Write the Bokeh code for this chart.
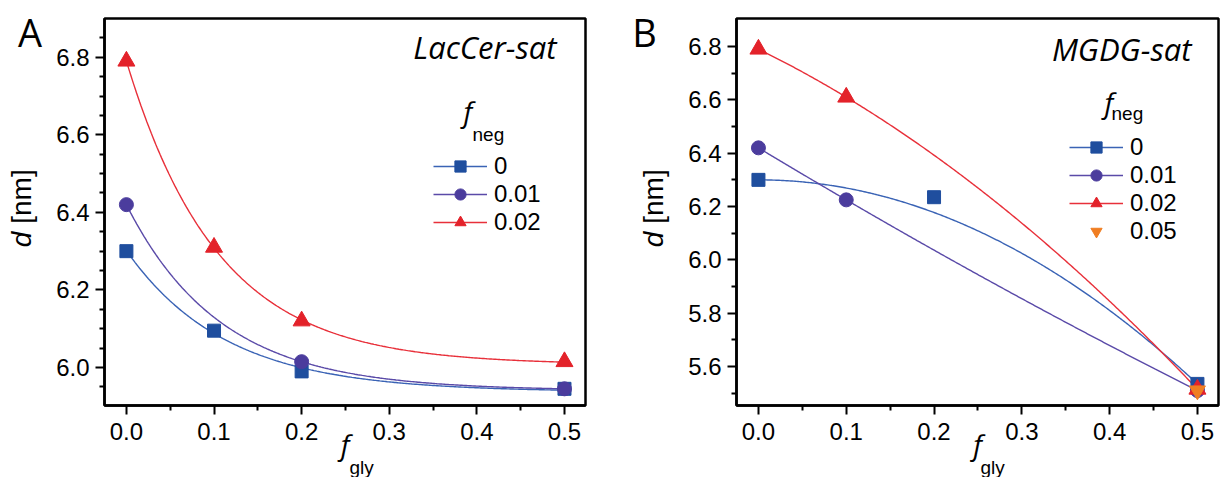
import numpy as np
from bokeh.plotting import figure
from bokeh.models import (Label, Legend, LegendItem, FixedTicker, Range1d, Title,
                          PrintfTickFormatter)
from bokeh.layouts import row
from bokeh.embed import file_html
from bokeh.resources import INLINE

# ---------------- data ----------------
# Panel A: LacCer-sat
a_x_neg0 = [0.0, 0.1, 0.2, 0.5]
a_y_neg0 = [6.30, 6.095, 5.99, 5.945]
a_x_neg001 = [0.0, 0.2, 0.5]
a_y_neg001 = [6.42, 6.015, 5.945]
a_x_neg002 = [0.0, 0.1, 0.2, 0.5]
a_y_neg002 = [6.79, 6.31, 6.12, 6.015]

# Panel B: MGDG-sat
b_x_neg0 = [0.0, 0.2, 0.5]
b_y_neg0 = [6.30, 6.235, 5.535]
b_x_neg001 = [0.0, 0.1, 0.5]
b_y_neg001 = [6.42, 6.225, 5.51]
b_x_neg002 = [0.0, 0.1, 0.5]
b_y_neg002 = [6.79, 6.61, 5.515]
b_x_neg005 = [0.5]
b_y_neg005 = [5.51]

legend_labels_a = ["0", "0.01", "0.02"]
legend_labels_b = ["0", "0.01", "0.02", "0.05"]
x_ticks = [0.0, 0.1, 0.2, 0.3, 0.4, 0.5]
x_minor = [0.05, 0.15, 0.25, 0.35, 0.45]
a_y_ticks = [6.0, 6.2, 6.4, 6.6, 6.8]
a_y_minor = [5.95, 6.05, 6.1, 6.15, 6.25, 6.3, 6.35, 6.45, 6.5, 6.55, 6.65, 6.7, 6.75, 6.85]
b_y_ticks = [5.6, 5.8, 6.0, 6.2, 6.4, 6.6, 6.8]
b_y_minor = [5.5, 5.7, 5.9, 6.1, 6.3, 6.5, 6.7]

# ---------------- style ----------------
BLUE_M, BLUE_L = "#1f4e9e", "#3a63b5"
PURP_M, PURP_L = "#4b3c9d", "#5a4aa8"
RED_M, RED_L = "#e3222a", "#e8303a"
ORANGE = "#f07e22"
TICK_FONT = "Liberation Sans"
ITAL_FONT = "Open Sans"

FH = 387
TOP, BOTTOM = 18, 72
H = TOP + FH + BOTTOM


# ---------------- fits derived from the data ----------------
def exp_decay_fit(x, y):
    x = np.asarray(x, float); y = np.asarray(y, float)
    best = None
    for t in np.linspace(0.02, 0.6, 3000):
        M = np.column_stack([np.ones_like(x), np.exp(-x / t)])
        coef = np.linalg.lstsq(M, y, rcond=None)[0]
        r = float(np.sum((M @ coef - y) ** 2))
        if best is None or r < best[0]:
            best = (r, t, coef)
    _, t, coef = best
    xs = np.linspace(x.min(), x.max(), 300)
    return xs, coef[0] + coef[1] * np.exp(-xs / t)


def quad_fit(x, y):
    c = np.polyfit(x, y, 2)
    xs = np.linspace(min(x), max(x), 300)
    return xs, np.polyval(c, xs)


def vertex_parabola(x, y):
    a = y[0]
    c = (y[-1] - y[0]) / (x[-1] - x[0]) ** 2
    xs = np.linspace(min(x), max(x), 300)
    return xs, a + c * (xs - x[0]) ** 2


def make_fig(fw, xr, yr, yt, ymin, left, right, gly_offset):
    p = figure(frame_width=fw, frame_height=FH, x_range=Range1d(*xr), y_range=Range1d(*yr),
               output_backend="svg", toolbar_location=None,
               min_border_left=left, min_border_right=right,
               min_border_top=TOP, min_border_bottom=BOTTOM)
    p.grid.visible = False
    p.background_fill_color = "white"
    p.border_fill_color = "white"
    p.outline_line_color = "black"
    p.outline_line_width = 2.5
    p.xaxis.ticker = FixedTicker(ticks=x_ticks, minor_ticks=x_minor)
    p.yaxis.ticker = FixedTicker(ticks=yt, minor_ticks=ymin)
    p.xaxis.formatter = PrintfTickFormatter(format="%.1f")
    p.yaxis.formatter = PrintfTickFormatter(format="%.1f")
    for ax in (p.xaxis[0], p.yaxis[0]):
        ax.axis_line_width = 2.5
        ax.axis_line_color = "black"
        ax.major_tick_line_width = 2
        ax.minor_tick_line_width = 2
        ax.major_tick_out = 9
        ax.major_tick_in = 0
        ax.minor_tick_out = 5
        ax.minor_tick_in = 0
        ax.major_label_text_font = TICK_FONT
        ax.major_label_text_font_size = "24px"
        ax.major_label_text_color = "black"
    xa = p.xaxis[0]
    xa.major_label_standoff = 8
    p.yaxis[0].major_label_standoff = 6
    # x axis title: italic f with subscript "gly"
    xa.axis_label = "f"
    xa.axis_label_text_font = ITAL_FONT
    xa.axis_label_text_font_style = "italic"
    xa.axis_label_text_font_size = "28px"
    xa.axis_label_text_color = "black"
    xa.axis_label_standoff = -18
    p.add_layout(Title(text="gly", align="left", offset=gly_offset, standoff=-18,
                       vertical_align="top", text_font=TICK_FONT, text_font_size="19px",
                       text_font_style="normal", text_color="black"), "below")
    return p


def make_conv(xr, yr, fw, fleft, ftop):
    def conv(px, py):
        x = xr[0] + (px - fleft) / fw * (xr[1] - xr[0])
        y = yr[1] - (py - ftop) / FH * (yr[1] - yr[0])
        return x, y
    return conv


def add_label(p, conv, px, py, text, font, size, style="normal", align="left", angle=0.0):
    # (px, py) = anchor point; vertical anchor is the middle of the text box
    x, y = conv(px, py)
    p.add_layout(Label(x=x, y=y, text=text, text_font=font, text_font_size=size,
                       text_font_style=style, text_align=align, text_baseline="middle",
                       angle=angle, text_color="black"))


def make_strip(w, x0, letter, letter_cx, label_cx):
    # plain text strip beside a panel: panel letter and the y-axis title;
    # its frame is aligned with the panel frames, so y maps page pixels TOP..TOP+FH
    s = figure(width=w, height=H, x_range=Range1d(x0, x0 + w), y_range=Range1d(TOP + FH, TOP),
               output_backend="svg", toolbar_location=None, x_axis_type=None, y_axis_type=None,
               min_border_left=0, min_border_right=0, min_border_top=TOP, min_border_bottom=BOTTOM)
    s.grid.visible = False
    s.outline_line_color = None
    s.background_fill_color = "white"
    s.border_fill_color = "white"
    conv = lambda px, py: (px, py)
    add_label(s, conv, letter_cx, 31.5, letter, ITAL_FONT, "38px", align="center")
    add_label(s, conv, label_cx, 239, "d", TICK_FONT, "28px", style="italic", align="center",
              angle=np.pi / 2)
    add_label(s, conv, label_cx, 196, "[nm]", TICK_FONT, "28px", align="center", angle=np.pi / 2)
    return s


# ---------------- layout numbers ----------------
STRIP_A, A_LEFT, A_FW, A_RIGHT = 50, 54, 481, 15
STRIP_B, B_LEFT, B_FW, B_RIGHT = 80, 56, 482, 4
A_FRAME_LEFT = STRIP_A + A_LEFT
B_ORIGIN = STRIP_A + A_LEFT + A_FW + A_RIGHT
B_FRAME_LEFT = B_ORIGIN + STRIP_B + B_LEFT
XR = (-0.025, 0.524)

# ---------------- Panel A ----------------
A_YR = (5.902, 6.9)
pA = make_fig(A_FW, XR, A_YR, a_y_ticks, a_y_minor, A_LEFT, A_RIGHT, 349 - A_FRAME_LEFT)
convA = make_conv(XR, A_YR, A_FW, A_FRAME_LEFT, TOP)

fx, fy = exp_decay_fit(a_x_neg0, a_y_neg0)
lA0 = pA.line(fx, fy, line_color=BLUE_L, line_width=1.4)
fx, fy = exp_decay_fit(a_x_neg001, a_y_neg001)
lA1 = pA.line(fx, fy, line_color=PURP_L, line_width=1.4)
fx, fy = exp_decay_fit(a_x_neg002, a_y_neg002)
lA2 = pA.line(fx, fy, line_color=RED_L, line_width=1.4)
sA0 = pA.scatter(a_x_neg0, a_y_neg0, marker="square", size=13, fill_color=BLUE_M, line_color=BLUE_M)
sA1 = pA.scatter(a_x_neg001, a_y_neg001, marker="circle", size=14, fill_color=PURP_M, line_color=PURP_M)
sA2 = pA.scatter(a_x_neg002, a_y_neg002, marker="triangle", size=17, fill_color=RED_M, line_color=RED_M)

legA = Legend(items=[LegendItem(label=legend_labels_a[0], renderers=[lA0, sA0]),
                     LegendItem(label=legend_labels_a[1], renderers=[lA1, sA1]),
                     LegendItem(label=legend_labels_a[2], renderers=[lA2, sA2])],
              location=(329, 169))
pA.add_layout(legA)

add_label(pA, convA, 556, 46, "LacCer-sat", ITAL_FONT, "31px", style="italic", align="right")
add_label(pA, convA, 463, 110, "f", ITAL_FONT, "28px", style="italic")
add_label(pA, convA, 472, 133.5, "neg", TICK_FONT, "19px")

# ---------------- Panel B ----------------
B_YR = (5.454, 6.905)
pB = make_fig(B_FW, XR, B_YR, b_y_ticks, b_y_minor, B_LEFT, B_RIGHT, 980 - B_FRAME_LEFT)
convB = make_conv(XR, B_YR, B_FW, B_FRAME_LEFT, TOP)

fx, fy = vertex_parabola(b_x_neg0, b_y_neg0)
lB0 = pB.line(fx, fy, line_color=BLUE_L, line_width=1.4)
fx, fy = quad_fit(b_x_neg001, b_y_neg001)
lB1 = pB.line(fx, fy, line_color=PURP_L, line_width=1.4)
fx, fy = quad_fit(b_x_neg002, b_y_neg002)
lB2 = pB.line(fx, fy, line_color=RED_L, line_width=1.4)
sB0 = pB.scatter(b_x_neg0, b_y_neg0, marker="square", size=13, fill_color=BLUE_M, line_color=BLUE_M)
sB1 = pB.scatter(b_x_neg001, b_y_neg001, marker="circle", size=14, fill_color=PURP_M, line_color=PURP_M)
sB2 = pB.scatter(b_x_neg002, b_y_neg002, marker="triangle", size=17, fill_color=RED_M, line_color=RED_M)
sB3 = pB.scatter(b_x_neg005, b_y_neg005, marker="inverted_triangle", size=16, fill_color=ORANGE, line_color=ORANGE)

legB = Legend(items=[LegendItem(label=legend_labels_b[0], renderers=[lB0, sB0]),
                     LegendItem(label=legend_labels_b[1], renderers=[lB1, sB1]),
                     LegendItem(label=legend_labels_b[2], renderers=[lB2, sB2]),
                     LegendItem(label=legend_labels_b[3], renderers=[sB3])],
              location=(333, 160))
pB.add_layout(legB)

add_label(pB, convB, 1191, 48, "MGDG-sat", ITAL_FONT, "31px", style="italic", align="right")
add_label(pB, convB, 1104, 101, "f", ITAL_FONT, "28px", style="italic")
add_label(pB, convB, 1111, 113, "neg", TICK_FONT, "19px")

for leg in (legA, legB):
    leg.glyph_width = 54
    leg.glyph_height = 28
    leg.label_height = 28
    leg.spacing = 0
    leg.padding = 0
    leg.margin = 0
    leg.border_line_color = None
    leg.background_fill_alpha = 0
    leg.label_standoff = 7
    leg.label_text_font = TICK_FONT
    leg.label_text_font_size = "24px"
    leg.label_text_color = "black"

# ---------------- text strips ----------------
sA = make_strip(STRIP_A, 0, "A", 29.5, 21)
sB = make_strip(STRIP_B, B_ORIGIN, "B", 644, 653)

layout = row(sA, pA, sB, pB)
open("out.html", "w").write(file_html(layout, INLINE))
